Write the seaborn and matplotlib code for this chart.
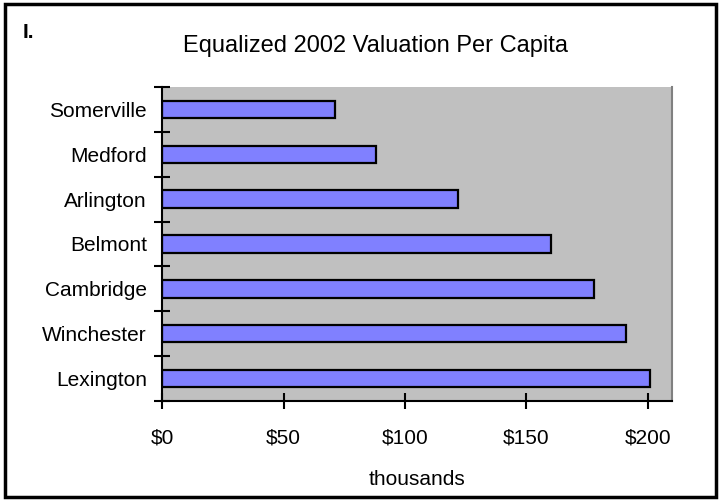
import matplotlib.pyplot as plt
import matplotlib.ticker as mticker
from matplotlib.patches import Rectangle
import numpy as np
import pandas as pd
import seaborn as sns

# Data (per capita valuation, thousands of dollars)
towns = ['Somerville', 'Medford', 'Arlington', 'Belmont',
         'Cambridge', 'Winchester', 'Lexington']
values = [71, 88, 122, 160, 178, 191, 201]
x_ticks = [0, 50, 100, 150, 200]

df = pd.DataFrame({'town': towns, 'value': values})

sns.set_style('white')
plt.rcParams['font.family'] = ['Liberation Sans', 'DejaVu Sans']
plt.rcParams['text.color'] = 'black'
plt.rcParams['xtick.color'] = 'black'
plt.rcParams['ytick.color'] = 'black'
plt.rcParams['axes.labelcolor'] = 'black'

fig = plt.figure(figsize=(7.21, 5.01), dpi=100)
ax = fig.add_axes([0.225, 0.2, 0.707, 0.626])

sns.barplot(data=df, x='value', y='town', order=towns, orient='h',
            color='#8080FF', edgecolor='black', linewidth=1.6,
            width=0.39, saturation=1, ax=ax)

ax.set_facecolor('#C0C0C0')
ax.set_xlim(0, 210)
ax.set_ylim(len(towns) - 0.5, -0.5)

# x axis
ax.set_xticks(x_ticks)
ax.xaxis.set_major_formatter(mticker.FuncFormatter(lambda v, p: f'${v:.0f}'))
ax.tick_params(axis='x', bottom=True, direction='inout', length=12, width=1.5,
               labelsize=15, pad=14)
ax.set_xlabel('thousands', fontsize=15, labelpad=16)

# y axis: ticks between categories
ax.set_yticks(np.arange(len(towns)))
ax.set_yticklabels(towns)
ax.set_yticks(np.arange(-0.5, len(towns)), minor=True)
ax.tick_params(axis='y', which='major', left=True, length=0, labelsize=15, pad=11)
ax.tick_params(axis='y', which='minor', left=True, direction='inout', length=12,
               width=1.5)
ax.set_ylabel('')

for side in ['left', 'bottom']:
    ax.spines[side].set_color('black')
    ax.spines[side].set_linewidth(1.5)
ax.spines['top'].set_visible(False)
ax.spines['right'].set_color('#808080')
ax.spines['right'].set_linewidth(1.5)

ax.set_title('Equalized 2002 Valuation Per Capita', fontsize=17, pad=25,
             x=0.418)
fig.text(0.031, 0.924, 'I.', fontsize=15, fontweight='bold')

# outer frame
fig.patches.append(Rectangle((0.007, 0.008), 0.986, 0.984,
                             transform=fig.transFigure, fill=False,
                             edgecolor='black', linewidth=2.5))

fig.savefig('out.png', dpi=100)
